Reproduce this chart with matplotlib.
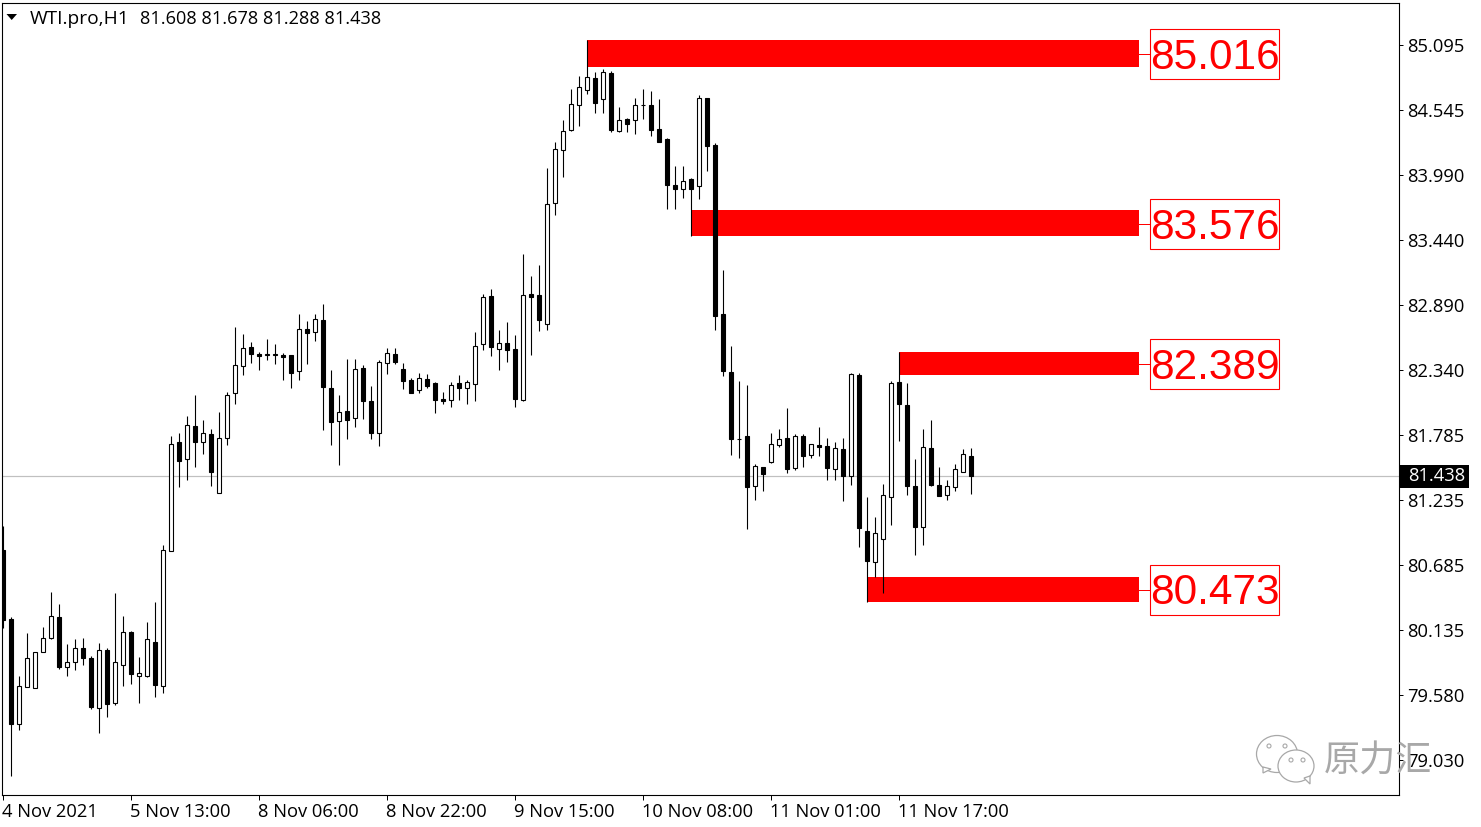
import matplotlib
matplotlib.use('Agg')
import matplotlib.pyplot as plt
from matplotlib.patches import Rectangle, Ellipse, Polygon

# hourly candles, oldest first
opens = [80.812, 80.226, 79.336, 79.650, 79.642, 79.947, 80.066, 80.243, 79.820, 79.862,
         79.981, 79.896, 79.472, 79.964, 79.514, 79.837, 80.116, 79.743, 79.743, 80.032,
         79.659, 80.803, 81.728, 81.584, 81.864, 81.728, 81.796, 81.295, 81.762, 82.144,
         82.373, 82.534, 82.474, 82.465, 82.465, 82.465, 82.465, 82.330, 82.686, 82.661,
         82.763, 82.186, 81.906, 81.991, 81.932, 82.356, 82.076, 81.804, 82.398, 82.474,
         82.347, 82.254, 82.169, 82.262, 82.228, 82.093, 82.084, 82.228, 82.186, 82.220,
         82.559, 82.966, 82.517, 82.568, 82.517, 82.084, 82.983, 82.975, 82.729, 83.755,
         84.205, 84.374, 84.586, 84.714, 84.815, 84.637, 84.858, 84.366, 84.468, 84.459,
         84.586, 84.586, 84.383, 84.298, 83.908, 83.874, 83.959, 83.899, 84.646, 84.247,
         82.814, 82.322, 81.753, 81.779, 81.355, 81.516, 81.558, 81.703, 81.762, 81.507,
         81.779, 81.618, 81.703, 81.694, 81.499, 81.669, 81.440, 82.296, 80.973, 80.710,
         80.905, 81.262, 82.237, 82.042, 81.355, 81.007, 81.677, 81.363, 81.278, 81.346,
         81.474, 81.608]
highs = [81.015, 80.243, 79.743, 80.108, 79.947, 80.159, 80.456, 80.354, 80.015, 80.057,
         80.066, 79.913, 80.023, 79.981, 80.447, 80.252, 80.125, 79.904, 80.201, 80.371,
         80.854, 81.779, 81.804, 81.949, 82.127, 81.915, 81.838, 81.982, 82.152, 82.703,
         82.644, 82.576, 82.491, 82.602, 82.559, 82.483, 82.465, 82.814, 82.754, 82.814,
         82.899, 82.339, 82.127, 82.432, 82.432, 82.381, 82.203, 82.424, 82.525, 82.525,
         82.398, 82.271, 82.313, 82.305, 82.237, 82.152, 82.237, 82.296, 82.254, 82.661,
         82.983, 83.026, 82.678, 82.746, 82.636, 83.323, 83.136, 83.229, 84.052, 84.273,
         84.459, 84.722, 84.832, 85.138, 84.866, 84.892, 84.875, 84.569, 84.476, 84.646,
         84.722, 84.705, 84.637, 84.307, 84.069, 84.069, 83.967, 84.671, 84.646, 84.264,
         83.187, 82.542, 82.245, 82.211, 81.541, 81.516, 81.804, 81.838, 82.016, 81.796,
         81.796, 81.711, 81.855, 81.762, 81.728, 81.762, 82.313, 82.313, 81.262, 81.092,
         81.372, 82.245, 82.491, 82.228, 81.584, 81.838, 81.915, 81.516, 81.406, 81.541,
         81.669, 81.678]
lows = [80.150, 78.895, 79.285, 79.650, 79.642, 79.947, 80.057, 79.803, 79.743, 79.794,
        79.837, 79.463, 79.260, 79.396, 79.497, 79.659, 79.675, 79.514, 79.735, 79.565,
        79.599, 80.803, 81.346, 81.406, 81.516, 81.626, 81.355, 81.295, 81.703, 82.050,
        82.296, 82.398, 82.339, 82.424, 82.390, 82.254, 82.186, 82.254, 82.390, 82.585,
        81.830, 81.703, 81.533, 81.753, 81.855, 81.923, 81.753, 81.694, 82.305, 82.390,
        82.178, 82.144, 82.144, 82.186, 81.974, 82.050, 82.025, 82.084, 82.050, 82.076,
        82.508, 82.457, 82.339, 82.407, 82.025, 82.076, 82.465, 82.669, 82.678, 83.653,
        83.976, 84.366, 84.408, 84.680, 84.519, 84.519, 84.357, 84.357, 84.357, 84.340,
        84.468, 84.323, 84.273, 83.704, 83.704, 83.798, 83.475, 83.789, 84.027, 82.678,
        82.288, 81.618, 81.592, 80.990, 81.236, 81.312, 81.550, 81.686, 81.465, 81.491,
        81.516, 81.592, 81.609, 81.406, 81.406, 81.228, 81.363, 80.837, 80.371, 80.583,
        80.447, 81.024, 81.737, 81.278, 80.770, 80.854, 81.355, 81.270, 81.236, 81.312,
        81.474, 81.288]
closes = [80.218, 79.336, 79.659, 79.896, 79.947, 80.066, 80.252, 79.820, 79.862, 79.981,
          79.896, 79.480, 79.964, 79.506, 79.862, 80.116, 79.760, 79.769, 80.057, 79.667,
          80.812, 81.711, 81.567, 81.872, 81.728, 81.804, 81.474, 81.762, 82.127, 82.381,
          82.525, 82.474, 82.457, 82.474, 82.474, 82.449, 82.313, 82.686, 82.653, 82.771,
          82.194, 81.898, 81.982, 81.915, 82.347, 82.076, 81.804, 82.407, 82.483, 82.407,
          82.245, 82.144, 82.271, 82.203, 82.084, 82.076, 82.211, 82.186, 82.237, 82.542,
          82.958, 82.534, 82.568, 82.508, 82.093, 82.975, 82.958, 82.763, 83.747, 84.213,
          84.366, 84.595, 84.739, 84.824, 84.603, 84.866, 84.374, 84.459, 84.425, 84.586,
          84.586, 84.374, 84.273, 83.908, 83.874, 83.942, 83.874, 84.646, 84.239, 82.797,
          82.330, 81.753, 81.753, 81.346, 81.524, 81.457, 81.711, 81.753, 81.499, 81.779,
          81.609, 81.711, 81.686, 81.507, 81.677, 81.440, 82.305, 80.999, 80.719, 80.956,
          81.278, 82.228, 82.050, 81.355, 81.007, 81.686, 81.363, 81.270, 81.355, 81.499,
          81.626, 81.438]

# red zones: first bar, top, bottom, label
zone_starts = [73, 86, 112, 108]
zone_tops = [85.138, 83.696, 82.491, 80.583]
zone_bottoms = [84.909, 83.475, 82.296, 80.371]
zone_labels = [85.016, 83.576, 82.389, 80.473]
zone_end = 142
box_left = 143.4
box_right = 159.6
box_half = 0.212

price_ticks = [85.095, 84.545, 83.990, 83.440, 82.890, 82.340, 81.785, 81.235,
               80.685, 80.135, 79.580, 79.030]
time_labels = ['4 Nov 2021', '5 Nov 13:00', '8 Nov 06:00', '8 Nov 22:00',
               '9 Nov 15:00', '10 Nov 08:00', '11 Nov 01:00', '11 Nov 17:00']
last_price = 81.438
symbol = 'WTI.pro,H1'
last_ohlc = '81.608 81.678 81.288 81.438'

plt.rcParams['font.family'] = ['Open Sans', 'DejaVu Sans']
W, H = 1481, 827
px = 0.72  # one pixel in points at dpi 100

fig = plt.figure(figsize=(W / 100, H / 100), dpi=100)
ax = fig.add_axes([1.5 / W, 1 - 794.5 / H, 1397 / W, 792 / H])
ax.set_xlim(-0.125, 174.5)
ax.set_ylim(78.738, 85.456)

ax.axhline(last_price, color='#c0c0c0', lw=1.2 * px, zorder=1)

# zones sit under the candles, labels in a box on the right
for start, top, bottom, label in zip(zone_starts, zone_tops, zone_bottoms, zone_labels):
    ax.add_patch(Rectangle((start, bottom), zone_end - start, top - bottom,
                           facecolor='#ff0000', edgecolor='none', zorder=2))
    ax.plot([zone_end, box_left], [label, label], color='#ff0000', lw=px, zorder=2)
    ax.add_patch(Rectangle((box_left, label - box_half), box_right - box_left, 2 * box_half,
                           facecolor='white', edgecolor='#ff0000', linewidth=1.1 * px, zorder=4))
    ax.annotate('%.3f' % label, ((box_left + box_right) / 2, label), xytext=(0, -2.5),
                textcoords='offset points', color='#ff0000', fontsize=30.5,
                family='Liberation Sans', ha='center', va='center', zorder=5)

for i, (o, h, l, c) in enumerate(zip(opens, highs, lows, closes)):
    ax.plot([i, i], [l, h], color='black', lw=1.1 * px, zorder=3, solid_capstyle='butt')
    face = 'white' if c >= o else 'black'
    ax.add_patch(Rectangle((i - 0.25, min(o, c)), 0.5, abs(c - o), facecolor=face,
                           edgecolor='black', linewidth=1.1 * px, zorder=3))

ax.yaxis.tick_right()
ax.set_yticks(price_ticks)
ax.set_yticklabels(['%.3f' % p for p in price_ticks])
ax.set_xticks(range(0, 16 * len(time_labels), 16))
ax.set_xticklabels(time_labels, ha='left')
ax.tick_params(axis='y', length=3, width=px, labelsize=13.2, pad=3.5)
ax.tick_params(axis='x', length=3.5, width=px, labelsize=13.2, pad=2.5)
for spine in ax.spines.values():
    spine.set_linewidth(1.1 * px)

# current price tag on the axis
yaxis_tf = ax.get_yaxis_transform()
ax.add_patch(Rectangle((1.0007, last_price - 0.098), 0.0501, 0.196, facecolor='black',
                       edgecolor='none', transform=yaxis_tf, clip_on=False, zorder=6))
ax.text(1.0068, last_price, '%.3f' % last_price, color='white', fontsize=13.2, va='center',
        ha='left', transform=yaxis_tf, clip_on=False, zorder=7)

# overlay in image pixels: header and watermark
top = fig.add_axes([0, 0, 1, 1], facecolor='none')
top.set_xlim(0, W)
top.set_ylim(H, 0)
top.axis('off')
top.add_patch(Polygon([(6.5, 14), (17, 14), (11.7, 20)], facecolor='black', edgecolor='none'))
top.text(30, 18.5, symbol, fontsize=13.8, va='center', ha='left', color='black')
top.text(140, 18.5, last_ohlc, fontsize=13.1, va='center', ha='left', color='black')

wm = '#a8a8a8'
top.add_patch(Ellipse((1277, 754), 41, 37, facecolor='white', edgecolor=wm, lw=0.9))
top.add_patch(Polygon([(1263, 767), (1263, 773), (1271, 769)], facecolor='white', edgecolor=wm, lw=0.9))
top.add_patch(Ellipse((1296, 766), 36, 32, facecolor='white', edgecolor=wm, lw=0.9))
top.add_patch(Polygon([(1304, 778), (1310, 784), (1310, 776)], facecolor='white', edgecolor=wm, lw=0.9))
for x, y in [(1269, 746), (1285, 746), (1291, 760), (1303, 760)]:
    top.add_patch(Ellipse((x, y), 4, 4, facecolor='white', edgecolor=wm, lw=0.8))
top.text(1378, 762, '原力汇', fontsize=26, color=wm, va='center', ha='center',
         family=['Noto Sans CJK SC', 'DejaVu Sans'], fontweight='light')

fig.savefig('out.png', dpi=100)
